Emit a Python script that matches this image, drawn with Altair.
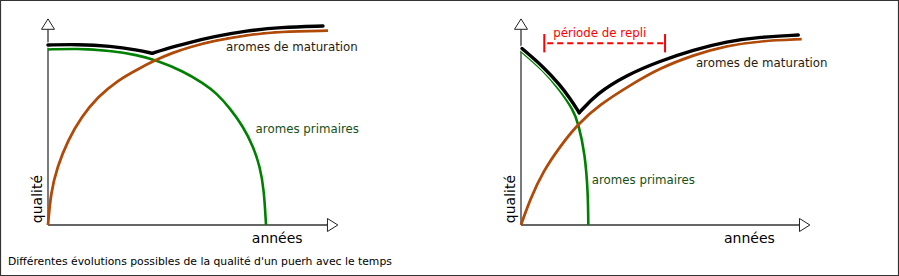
import altair as alt
import pandas as pd

# Units: x = years (0 at origin, 100 at arrow tip), y = quality (0 at origin, 100 at arrow tip)

# ---------- Left scenario ----------
L_green_x = [0, 9.93, 21.47, 30.58, 36.88, 46.23, 53.18, 57.77, 62.33, 66.88, 70.31, 72.60, 73.97, 74.66]
L_green_y = [85.19, 85.78, 84.61, 82.52, 80.10, 74.76, 68.79, 63.93, 56.65, 47.72, 38.01, 28.30, 16.99, 0]

L_brown_x = [0, 0.92, 3.18, 6.85, 11.47, 17.12, 23.80, 30.82, 36.88, 42.47, 48.63, 56.51, 68.05, 79.45, 95.89]
L_brown_y = [0, 15.39, 28.30, 41.26, 52.57, 62.28, 70.15, 75.73, 80.10, 83.50, 86.41, 89.32, 92.33, 93.93, 94.32]

L_black_x = [0, 10.03, 21.47, 30.58, 35.72, 35.72, 39.73, 48.63, 56.51, 68.05, 79.45, 94.18]
L_black_y = [87.38, 87.72, 86.89, 84.95, 83.35, 83.35, 85.29, 88.69, 91.41, 94.32, 95.97, 96.60]
L_black_seg = [0, 0, 0, 0, 0, 1, 1, 1, 1, 1, 1, 1]

# ---------- Right scenario ----------
R_green_x = [0, 7.66, 13.40, 17.97, 19.69, 21.99, 23.02, 23.13]
R_green_y = [84.47, 75.24, 65.53, 55.83, 49.37, 34.81, 15.39, 0]

R_brown_x = [0, 3.09, 7.66, 13.40, 19.59, 26.80, 38.14, 47.77, 59.21, 70.69, 82.13, 96.46]
R_brown_y = [0, 12.38, 26.21, 38.11, 49.03, 58.25, 68.45, 76.21, 82.52, 87.14, 89.42, 90.19]

R_black_x = [0.34, 7.66, 13.40, 16.84, 20.03, 20.03, 26.01, 36.32, 47.77, 59.21, 70.69, 82.13, 95.29]
R_black_y = [85.68, 76.84, 67.96, 61.50, 54.51, 54.51, 63.83, 72.82, 79.61, 84.95, 89.08, 91.26, 92.23]
R_black_seg = [0, 0, 0, 0, 0, 1, 1, 1, 1, 1, 1, 1, 1]

# "période de repli" bracket (right scenario)
REPLI_START, REPLI_END = 8.0, 49.5
REPLI_LEVEL, REPLI_LOW, REPLI_HIGH = 88.2, 83.8, 92.7

# Labels: text, x, y
L_labels = ["aromes de maturation", "aromes primaires"]
L_labels_x = [61.0, 71.1]
L_labels_y = [84.3, 44.5]
R_labels = ["aromes de maturation", "aromes primaires"]
R_labels_x = [60.1, 24.3]
R_labels_y = [76.6, 19.9]
LABEL_COLORS = ["#2b1a0e", "#155015"]

X_TITLE = "années"
Y_TITLE = "qualité"
CAPTION = "Différentes évolutions possibles de la qualité d'un puerh avec le temps"
REPLI_TEXT = "période de repli"

FONT = "DejaVu Sans"
GREEN, BROWN, RED = "#008000", "#b04a08", "#ff0000"

XR = {"L": [48, 340], "R": [521, 812]}
YR = [225, 19]


def X(p, f="x"):
    return alt.X(f"{f}:Q", scale=alt.Scale(domain=[0, 100], range=XR[p], nice=False, zero=False), axis=None)


def Y(p, f="y"):
    return alt.Y(f"{f}:Q", scale=alt.Scale(domain=[0, 100], range=YR, nice=False, zero=False), axis=None)


def curve(p, xs, ys, color, width, seg=None, cap="butt"):
    df = pd.DataFrame({"x": xs, "y": ys, "i": list(range(len(xs))),
                       "seg": seg if seg is not None else [0] * len(xs)})
    return alt.Chart(df).mark_line(color=color, strokeWidth=width, interpolate="basis",
                                   strokeCap=cap, strokeJoin="round").encode(
        x=X(p), y=Y(p), order="i:Q", detail="seg:N")


def axes(p):
    d = pd.DataFrame({"x": [0, 0], "y": [0, 0], "x2": [0, 95.7], "y2": [95.0, 0]})
    rules = alt.Chart(d).mark_rule(color="#333333", strokeWidth=1.3).encode(
        x=X(p), y=Y(p), x2="x2:Q", y2="y2:Q")
    up = alt.Chart(pd.DataFrame({"x": [0], "y": [95.0]})).mark_point(
        shape="M-1,0L1,0L0,-1.6Z", size=169, filled=True, fill="white", stroke="#222222",
        strokeWidth=1, opacity=1).encode(x=X(p), y=Y(p))
    right = alt.Chart(pd.DataFrame({"x": [95.7], "y": [0]})).mark_point(
        shape="M0,-1L0,1L1.6,0Z", size=169, filled=True, fill="white", stroke="#222222",
        strokeWidth=1, opacity=1).encode(x=X(p), y=Y(p))
    xt = alt.Chart(pd.DataFrame({"x": [78.5], "y": [-8.6], "t": [X_TITLE]})).mark_text(
        font=FONT, fontSize=14, color="black", align="center", baseline="alphabetic").encode(
        x=X(p), y=Y(p), text="t:N")
    yt = alt.Chart(pd.DataFrame({"x": [-3.4], "y": [12.6], "t": [Y_TITLE]})).mark_text(
        font=FONT, fontSize=14, color="black", align="center", baseline="middle", angle=270).encode(
        x=X(p), y=Y(p), text="t:N")
    return [rules, up, right, xt, yt]


def labels(p, texts, xs, ys):
    df = pd.DataFrame({"t": texts, "x": xs, "y": ys, "c": LABEL_COLORS})
    return alt.Chart(df).mark_text(font=FONT, fontSize=11.8, align="left", baseline="alphabetic").encode(
        x=X(p), y=Y(p), text="t:N", color=alt.Color("c:N", scale=None))


def panel(p, gx, gy, bx, by, kx, ky, kseg, lt, lx, ly):
    layers = axes(p)
    layers += [
        curve(p, gx, gy, GREEN, 2.6),
        curve(p, bx, by, BROWN, 2.8),
        curve(p, kx, ky, "white", 5.5, kseg, cap="round"),
        curve(p, kx, ky, "black", 3.4, kseg, cap="round"),
        labels(p, lt, lx, ly),
    ]
    return layers


left = panel("L", L_green_x, L_green_y, L_brown_x, L_brown_y, L_black_x, L_black_y, L_black_seg,
             L_labels, L_labels_x, L_labels_y)
left.append(alt.Chart(pd.DataFrame({"x": [-13.7], "y": [-19.2], "t": [CAPTION]})).mark_text(
    font=FONT, fontSize=10.8, color="black", align="left", baseline="alphabetic").encode(
    x=X("L"), y=Y("L"), text="t:N"))

right = panel("R", R_green_x, R_green_y, R_brown_x, R_brown_y, R_black_x, R_black_y, R_black_seg,
              R_labels, R_labels_x, R_labels_y)

repli_line = alt.Chart(pd.DataFrame({"x": [REPLI_START + 1.0], "x2": [REPLI_END - 0.7],
                                     "y": [REPLI_LEVEL]})).mark_rule(
    color=RED, strokeWidth=2, strokeDash=[6, 4]).encode(x=X("R"), x2="x2:Q", y=Y("R"))
repli_ticks = alt.Chart(pd.DataFrame({"x": [REPLI_START, REPLI_END], "y": [REPLI_LOW, REPLI_LOW],
                                      "y2": [REPLI_HIGH, REPLI_HIGH]})).mark_rule(
    color=RED, strokeWidth=2).encode(x=X("R"), y=Y("R"), y2="y2:Q")
repli_text = alt.Chart(pd.DataFrame({"x": [(REPLI_START + REPLI_END) / 2 - 1.7], "y": [91.4],
                                     "t": [REPLI_TEXT]})).mark_text(
    font=FONT, fontSize=11.8, color=RED, align="center", baseline="alphabetic").encode(
    x=X("R"), y=Y("R"), text="t:N")
right += [repli_line, repli_ticks, repli_text]

frame = alt.Chart(pd.DataFrame({"a": [0]})).mark_rect(
    fillOpacity=0, stroke="#333333", strokeWidth=1.2).encode(
    x=alt.value(0.5), x2=alt.value(898.5), y=alt.value(0.5), y2=alt.value(275.5))

chart = alt.layer(alt.layer(*left), alt.layer(*right), frame).resolve_scale(
    x="independent", y="independent"
).properties(
    width=899, height=276, padding=0, autosize=alt.AutoSizeParams(type="none"),
    background="white"
).configure_view(strokeWidth=0)

chart.save("out.html", embed_options={"renderer": "svg", "actions": False})
